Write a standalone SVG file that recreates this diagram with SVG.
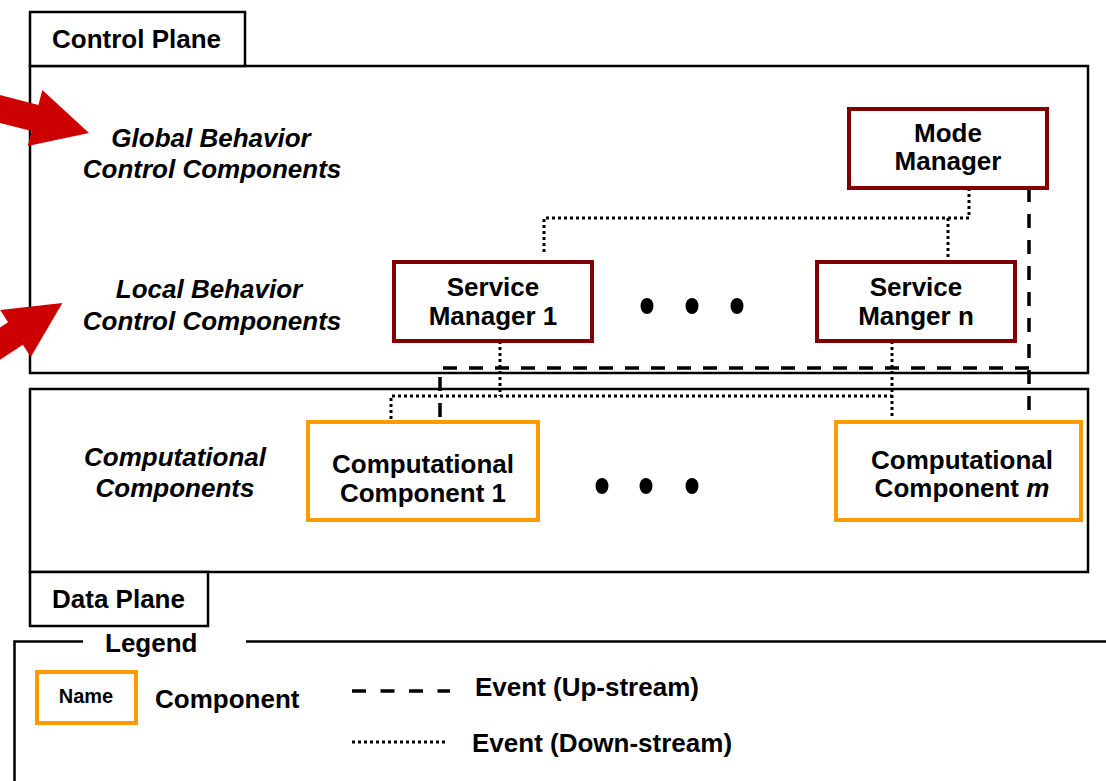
<svg xmlns="http://www.w3.org/2000/svg" width="1106" height="781" viewBox="0 0 1106 781">
<style>
text{font-family:"Liberation Sans",Arial,sans-serif;font-weight:bold;font-size:26px;fill:#000}
.c{text-anchor:middle}
.i{font-style:italic}
.frame{fill:#fff;stroke:#000;stroke-width:2.5}
.mgr{fill:#fff;stroke:#800000;stroke-width:4}
.comp{fill:#fff;stroke:#FF9900;stroke-width:4}
.up{fill:none;stroke:#000;stroke-width:3.5;stroke-dasharray:14 12}
.down{fill:none;stroke:#000;stroke-width:3;stroke-dasharray:3 3}
.dot{fill:#000}
.red{fill:#CC0000}
</style>
<g id="control-plane">
<rect class="frame" x="30" y="66" width="1058" height="307"/>
<rect class="frame" x="30" y="12" width="215" height="54"/>
<text x="52" y="48">Control Plane</text>
</g>
<g id="data-plane">
<rect class="frame" x="30" y="389" width="1058" height="183"/>
<rect class="frame" x="30" y="572" width="178" height="54"/>
<text x="52" y="608">Data Plane</text>
</g>
<g id="legend">
<path d="M14.5 781V641.5H83M246 641.5H1106" fill="none" stroke="#000" stroke-width="2.5"/>
<text x="105" y="652">Legend</text>
<rect class="comp" x="37" y="672" width="99" height="51"/>
<text class="c" x="86" y="703" style="font-size:20px">Name</text>
<text x="155" y="708">Component</text>
<line class="up" x1="352" y1="691" x2="450" y2="691" style="stroke-dasharray:14 14.5"/>
<text x="475" y="696">Event (Up-stream)</text>
<line class="down" x1="352" y1="742" x2="448" y2="742"/>
<text x="472" y="752">Event (Down-stream)</text>
</g>
<g id="label-global">
<text class="c i" x="211" y="147">Global Behavior</text>
<text class="c i" x="212" y="178">Control Components</text>
</g>
<g id="label-local">
<text class="c i" x="209" y="298">Local Behavior</text>
<text class="c i" x="212" y="330">Control Components</text>
</g>
<g id="label-computational">
<text class="c i" x="175" y="466">Computational</text>
<text class="c i" x="175" y="497">Components</text>
</g>
<g id="connectors">
<path class="down" d="M969 188V218H544V254"/>
<path class="down" d="M948 218V262"/>
<path class="down" d="M500 341V396"/>
<path class="down" d="M391 419V396H892"/>
<path class="down" d="M892 341V419"/>
<path class="up" d="M1029 188V419"/>
<path class="up" d="M1029 368H440V419"/>
</g>
<g id="mode-manager">
<rect class="mgr" x="849" y="109" width="198" height="79"/>
<text class="c" x="948" y="142">Mode</text>
<text class="c" x="948" y="170">Manager</text>
</g>
<g id="service-manager-1">
<rect class="mgr" x="394" y="262" width="198" height="79"/>
<text class="c" x="493" y="296">Service</text>
<text class="c" x="493" y="325">Manager 1</text>
</g>
<g id="service-manager-n">
<rect class="mgr" x="817" y="262" width="198" height="79"/>
<text class="c" x="916" y="296">Service</text>
<text class="c" x="916" y="325">Manger n</text>
</g>
<g id="manager-ellipsis">
<ellipse class="dot" cx="647" cy="306" rx="6.5" ry="8"/>
<ellipse class="dot" cx="692" cy="306" rx="6.5" ry="8"/>
<ellipse class="dot" cx="737" cy="306" rx="6.5" ry="8"/>
</g>
<g id="computational-component-1">
<rect class="comp" x="308" y="422" width="230" height="98"/>
<text class="c" x="423" y="473">Computational</text>
<text class="c" x="423" y="502">Component 1</text>
</g>
<g id="computational-component-m">
<rect class="comp" x="836" y="422" width="245" height="98"/>
<text class="c" x="962" y="469">Computational</text>
<text class="c" x="962" y="497">Component <tspan class="i">m</tspan></text>
</g>
<g id="component-ellipsis">
<ellipse class="dot" cx="602" cy="486" rx="6.5" ry="8"/>
<ellipse class="dot" cx="646" cy="486" rx="6.5" ry="8"/>
<ellipse class="dot" cx="692" cy="486" rx="6.5" ry="8"/>
</g>
<g id="arrow-global">
<polygon class="red" points="-24.6,88.6 38.4,104.9 42.3,89.9 89,133 27.7,146.1 31.6,131.1 -31.4,114.8"/>
</g>
<g id="arrow-local">
<polygon class="red" points="-42.1,355 8.1,322.2 0.2,310.1 62.4,302.9 30.8,356.9 22.9,344.8 -27.3,377.6"/>
</g>
</svg>
